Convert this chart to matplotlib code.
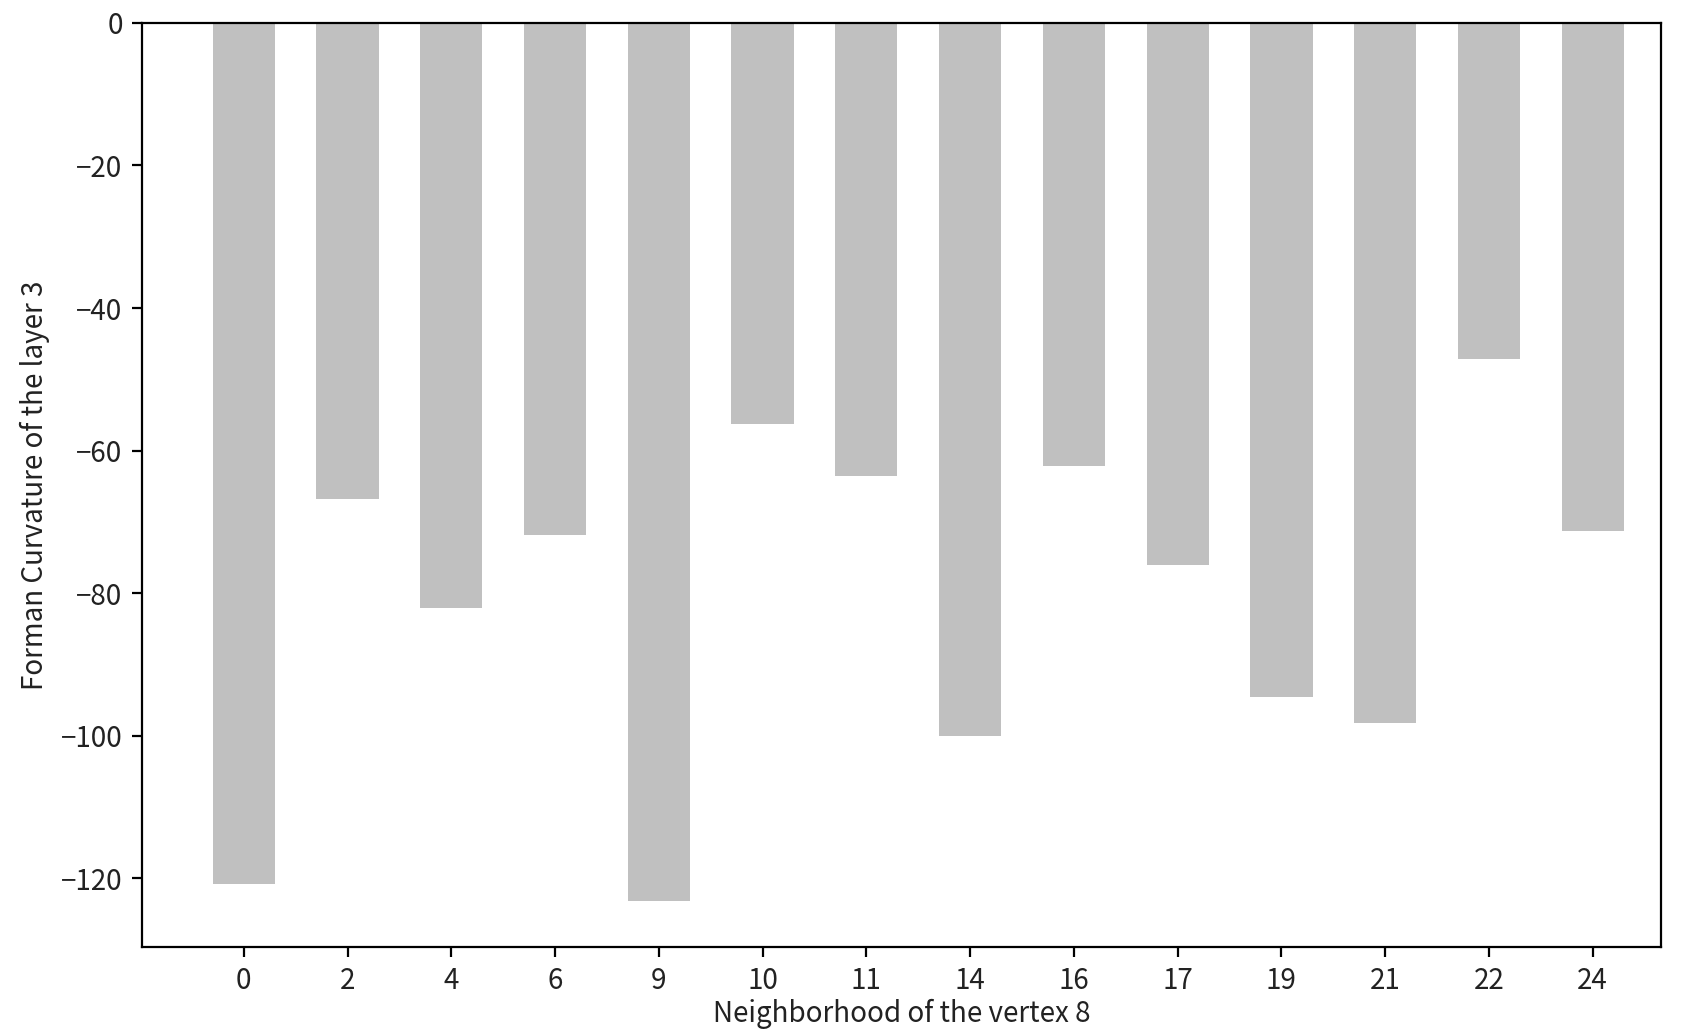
import matplotlib
matplotlib.use("Agg")
import matplotlib.pyplot as plt

plt.rcParams['font.family'] = ['Noto Sans CJK JP', 'DejaVu Sans']
plt.rcParams['axes.unicode_minus'] = True

# neighbours of vertex 8 and their Forman curvature (layer 3)
neighbors = ["0", "2", "4", "6", "9", "10", "11", "14", "16", "17", "19", "21", "22", "24"]
curvature = [-120.8, -66.8, -82.1, -71.9, -123.2, -56.2, -63.5,
             -100.0, -62.1, -76.1, -94.6, -98.2, -47.1, -71.3]


def main() -> int:
    fig, ax = plt.subplots(figsize=(8.51, 5.18), dpi=200)
    pos = range(len(neighbors))
    ax.bar(pos, curvature, width=0.6, color="silver")
    ax.set_xticks(list(pos))
    ax.set_xticklabels(neighbors)
    ax.set_xlim(-0.98, 13.66)
    ax.set_ylim(-129.6, 0)
    ax.tick_params(labelsize=10, labelcolor="#222222")
    ax.set_xlabel("Neighborhood of the vertex 8", fontsize=10, labelpad=1,
                  color="#222222")
    ax.set_ylabel("Forman Curvature of the layer 3", fontsize=10,
                  color="#222222")
    fig.subplots_adjust(left=0.0835, right=0.976, top=0.978, bottom=0.086)
    fig.savefig("out.png")
    return 0


if __name__ == "__main__":
    main()
